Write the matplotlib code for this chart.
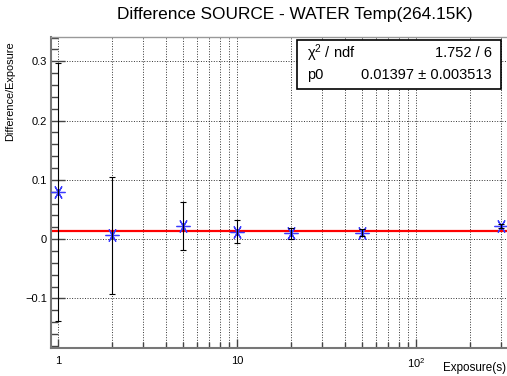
import numpy as np
import matplotlib
matplotlib.use("Agg")
from matplotlib import pyplot as plt
from matplotlib import ticker

plt.rcParams['font.family'] = ['Liberation Sans', 'DejaVu Sans']
plt.rcParams['mathtext.fontset'] = 'custom'
plt.rcParams['mathtext.rm'] = 'Liberation Sans'
plt.rcParams['mathtext.it'] = 'Liberation Sans:italic'

# measured points
exposure = [1, 2, 5, 10, 20, 50, 300]
diff = [0.0793, 0.0067, 0.0220, 0.0128, 0.0101, 0.0106, 0.0224]
diff_err = [0.218, 0.099, 0.040, 0.0197, 0.009, 0.006, 0.004]

# constant fit
p0 = 0.01397
fit_range = [0.94, 330]
chi2_text = "1.752 / 6"
p0_text = "0.01397 \u00b1 0.003513"

W, H = 507, 376
fig = plt.figure(figsize=(W / 100, H / 100), dpi=100)
ax = fig.add_axes([51 / W, 28.3 / H, 456 / W, 310.7 / H])

ax.set_xscale('log')
ax.set_xlim(10 ** (-7 / 179), 10 ** (449 / 179))
ax.set_ylim(-0.183, 0.341)

ax.plot(fit_range, [p0, p0], color='red', lw=1.6, zorder=2)
ax.plot(exposure, diff, ls='none', marker=(6, 2, 90), ms=10, mew=0.9,
        color='#3a3aff', zorder=3)
ax.errorbar(exposure, diff, yerr=diff_err, fmt='none', ecolor='black',
            elinewidth=0.8, capsize=2, capthick=0.8, zorder=4)

ax.yaxis.set_major_locator(ticker.MultipleLocator(0.1))
ax.yaxis.set_minor_locator(ticker.MultipleLocator(0.02))
ax.yaxis.set_major_formatter(ticker.FuncFormatter(lambda v, p: "0" if abs(v) < 1e-9 else ("%g" % v).replace("-", "\u2212")))
ax.xaxis.set_major_locator(ticker.FixedLocator([1, 10, 100]))
ax.xaxis.set_minor_locator(ticker.LogLocator(subs=np.arange(2, 10)))
ax.xaxis.set_major_formatter(ticker.FixedFormatter(["1", "10", "$10^2$"]))
ax.xaxis.set_minor_formatter(ticker.NullFormatter())

ax.tick_params(axis='y', which='major', direction='in', length=10, width=1, pad=3, labelsize=8, colors='#444', labelcolor='black')
ax.tick_params(axis='y', which='minor', direction='in', length=5, width=1, colors='#444')
ax.tick_params(axis='x', which='major', direction='in', length=6.5, width=1, pad=6, labelsize=8, colors='#444', labelcolor='black')
ax.tick_params(axis='x', which='minor', direction='in', length=4.3, width=1, colors='#444')

ax.grid(True, which='both', axis='x', ls=':', lw=0.7, color='black', alpha=0.8)
ax.grid(True, which='major', axis='y', ls=':', lw=0.7, color='black', alpha=0.8)
ax.set_axisbelow(True)

for s in ['left', 'bottom']:
    ax.spines[s].set_color('#777')
    ax.spines[s].set_linewidth(1.5)
ax.spines['top'].set_color('#999')
ax.spines['top'].set_linewidth(1)
ax.spines['right'].set_visible(False)

fig.text(10 / W, 1 - 91 / H, "Difference/Exposure", fontsize=7.9, rotation=90, ha='center', va='center')
fig.text(443 / W, 1 - 368 / H, "Exposure(s)", fontsize=8.4, ha='left', va='center')

fig.text(294.5 / W, 1 - 15 / H, "Difference SOURCE - WATER Temp(264.15K)", fontsize=12.4, ha='center', va='center')

# stats box
box = plt.Rectangle((297 / W, 1 - 89 / H), 204 / W, 49 / H, transform=fig.transFigure,
                    facecolor='white', edgecolor='black', lw=1.2, zorder=10)
fig.patches.append(box)
fig.text(307 / W, 1 - 53 / H, "\u03c7$^2$ / ndf", fontsize=10.5, ha='left', va='center', zorder=11)
fig.text(492 / W, 1 - 53 / H, chi2_text, fontsize=10.5, ha='right', va='center', zorder=11)
fig.text(307 / W, 1 - 75 / H, "p0", fontsize=10.5, ha='left', va='center', zorder=11)
fig.text(492 / W, 1 - 75 / H, p0_text, fontsize=10.5, ha='right', va='center', zorder=11)

fig.savefig("out.png", dpi=100)
